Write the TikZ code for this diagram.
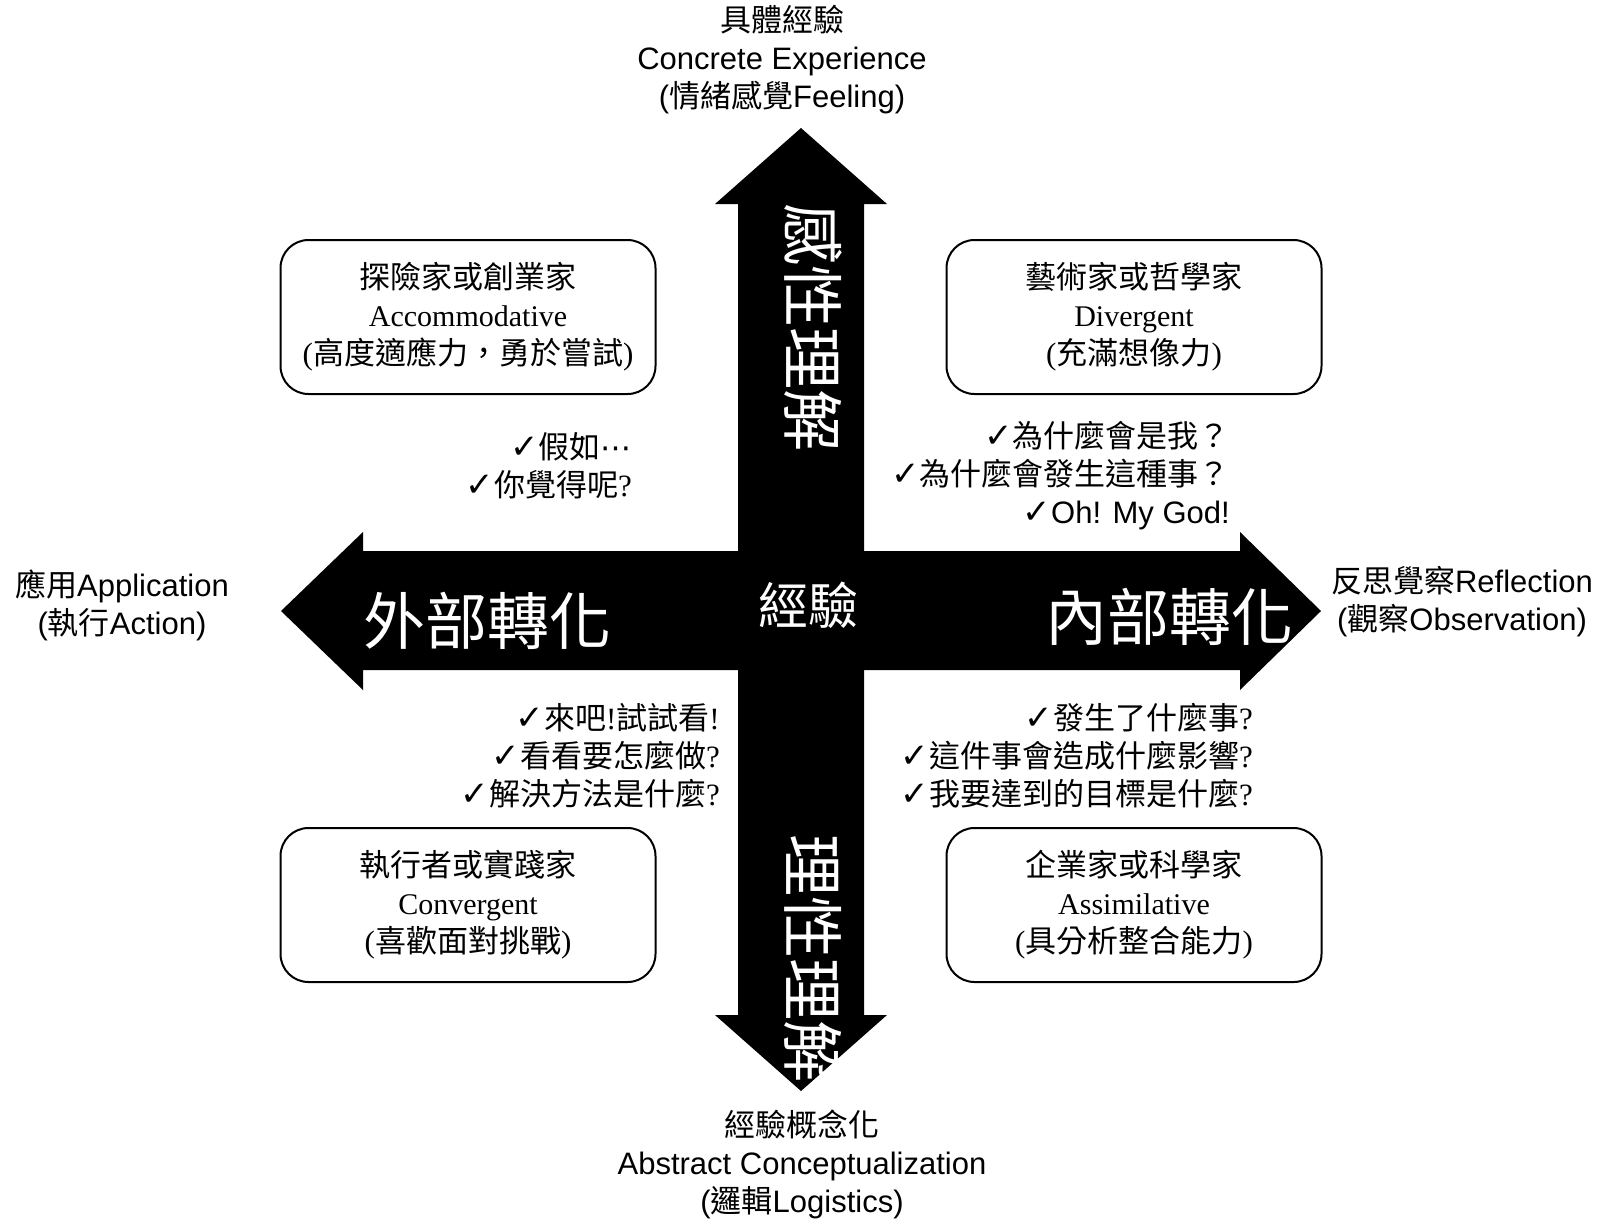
\documentclass[tikz,border=0pt]{standalone}
\usepackage{fontspec}
\setmainfont{Liberation Serif}
\setsansfont{Liberation Sans}
\newfontfamily\zhfont{Noto Sans CJK TC}
\newfontfamily\ckfont{DejaVu Sans}
\newcommand\zh[1]{{\zhfont #1}}
\newcommand\ckmark{{\ckfont\fontsize{34}{38}\selectfont ✓}}
\newcommand\middots{{\ckfont ⋯}}
\newcommand\latinsz{\fontsize{30}{38}\selectfont}

\begin{document}
\begin{tikzpicture}
  [x=1pt,y=-1pt,%以像素為單位,y向下
   stylebox/.style={draw,line width=2pt,rounded corners=28pt,minimum width=375pt,minimum height=154pt,
                    align=center,inner sep=0pt,font=\fontsize{31}{38}\selectfont},%四個學習風格的圓角框
   asklist/.style={anchor=east,align=right,inner sep=0pt,font=\fontsize{31}{38}\selectfont},%打勾的問句
   axislabel/.style={align=center,inner sep=0pt,font=\sffamily\fontsize{31}{38}\selectfont},%四端的說明
   bigword/.style={text=white,inner sep=0pt,font=\zhfont\fontsize{62}{62}\selectfont}]%箭頭上的白字

  \path[use as bounding box,fill=white] (0,0) rectangle (1613,1219);

  % 十字箭頭
  \fill (801,128) -- (887,204) -- (864,204) -- (864,1015) -- (887,1015) -- (801,1091)
        -- (715,1015) -- (738,1015) -- (738,204) -- (715,204) -- cycle;
  \fill (281,611) -- (363,532) -- (363,551) -- (1240,551) -- (1240,532) -- (1321,611)
        -- (1240,690) -- (1240,670) -- (363,670) -- (363,690) -- cycle;

  % 箭頭上的字
  \node[bigword,rotate=-90] (feel)  at (813,327) {感性理解};
  \node[bigword,rotate=-90] (think) at (813,958) {理性理解};
  \node[bigword] (outer) at (487,621) {外部轉化};
  \node[bigword] (inner) at (1169,617) {內部轉化};
  \node[bigword,font=\zhfont\fontsize{50}{50}\selectfont] (exp) at (808,605) {經驗};

  % 四端說明
  \node[axislabel] (ce) at (782,60)   {\zh{具體經驗}\\Concrete Experience\\(\zh{情緒感覺}Feeling)};
  \node[axislabel] (ac) at (802,1164) {\zh{經驗概念化}\\Abstract Conceptualization\\(\zh{邏輯}Logistics)};
  \node[axislabel] (ae) at (122,605)  {\zh{應用}Application\\(\zh{執行}Action)};
  \node[axislabel] (ro) at (1462,602) {\zh{反思覺察}Reflection\\(\zh{觀察}Observation)};

  % 四種學習風格
  \node[stylebox] (acc) at (468,317)  {\zh{探險家或創業家}\\{\latinsz Accommodative}\\(\zh{高度適應力，勇於嘗試})};
  \node[stylebox] (div) at (1134,317) {\zh{藝術家或哲學家}\\{\latinsz Divergent}\\(\zh{充滿想像力})};
  \node[stylebox] (con) at (468,905)  {\zh{執行者或實踐家}\\{\latinsz Convergent}\\(\zh{喜歡面對挑戰})};
  \node[stylebox] (ass) at (1134,905) {\zh{企業家或科學家}\\{\latinsz Assimilative}\\(\zh{具分析整合能力})};

  % 問句
  \node[asklist] (qacc) at (632,466)  {\ckmark\zh{假如}\middots\\\ckmark\zh{你覺得呢}?};
  \node[asklist] (qdiv) at (1230,476) {\ckmark\zh{為什麼會是我？}\\\ckmark\zh{為什麼會發生這種事？}\\\ckmark{\sffamily Oh! My God!}};
  \node[asklist] (qcon) at (720,756)  {\ckmark\zh{來吧}!\zh{試試看}!\\\ckmark\zh{看看要怎麼做}?\\\ckmark\zh{解決方法是什麼}?};
  \node[asklist] (qass) at (1253,756) {\ckmark\zh{發生了什麼事}?\\\ckmark\zh{這件事會造成什麼影響}?\\\ckmark\zh{我要達到的目標是什麼}?};
\end{tikzpicture}
\end{document}
